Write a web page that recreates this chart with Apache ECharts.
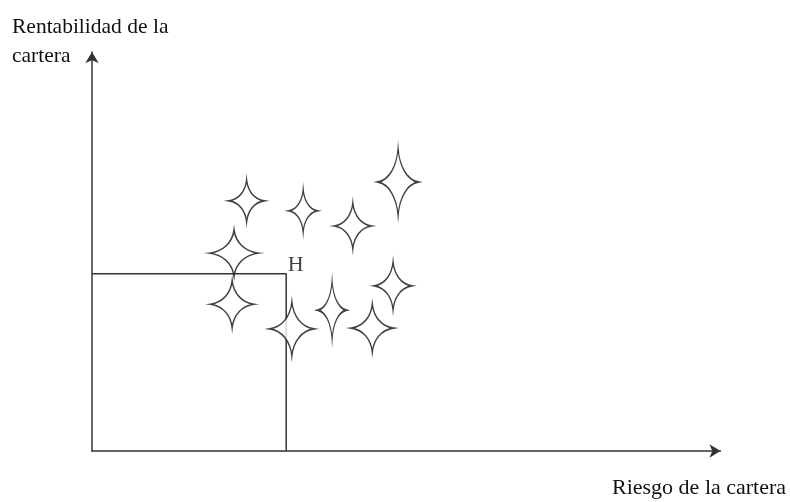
<!DOCTYPE html>
<html>
<head>
<meta charset="utf-8">
<script src="https://cdn.jsdelivr.net/npm/echarts@6/dist/echarts.min.js"></script>
<style>
html,body{margin:0;padding:0;background:#fff;}
#chart{width:790px;height:502px;}
</style>
</head>
<body>
<div id="chart"></div>
<script>
// Data (axis units 0..100, no scale shown in the original)
const yAxisTitle = 'Rentabilidad de la\ncartera';
const xAxisTitle = 'Riesgo de la cartera';
const portfolioX = [24.6, 33.6, 41.5, 48.7, 22.6, 22.3, 31.8, 38.2, 44.6, 47.9];
const portfolioY = [62.7, 60.2, 56.4, 67.4, 49.6, 36.8, 30.6, 35.3, 30.8, 41.4];
const pointHName = 'H';
const pointHX = 30.9;
const pointHY = 44.4;

// Marker sizes (visual only)
const starW = [35, 28, 37, 40, 49, 43, 44, 28, 42, 37];
const starH = [42, 43, 46, 68, 46, 47, 54, 59, 48, 48];

const starPath = 'path://M0,-1 C0.07,-0.45 0.45,-0.07 1,0 C0.45,0.07 0.07,0.45 0,1 C-0.07,0.45 -0.45,0.07 -1,0 C-0.45,-0.07 -0.07,-0.45 0,-1 Z';
const FONT = '"Liberation Serif", "Times New Roman", serif';

const starData = portfolioX.map((x, i) => ({
  value: [x, portfolioY[i]],
  symbolSize: [starW[i], starH[i]]
}));

const chart = echarts.init(document.getElementById('chart'), null, { renderer: 'canvas' });
chart.setOption({
  animation: false,
  backgroundColor: '#ffffff',
  grid: { left: 92, right: 69.5, top: 52, bottom: 51, containLabel: false },
  xAxis: {
    type: 'value', min: 0, max: 100,
    axisLine: { show: true, onZero: false, symbol: ['none', 'arrow'], symbolSize: [10, 11],
      lineStyle: { color: '#333', width: 1.5 } },
    axisTick: { show: false }, axisLabel: { show: false }, splitLine: { show: false }
  },
  yAxis: {
    type: 'value', min: 0, max: 100,
    axisLine: { show: true, onZero: false, symbol: ['none', 'arrow'], symbolSize: [10, 11],
      lineStyle: { color: '#333', width: 1.5 } },
    axisTick: { show: false }, axisLabel: { show: false }, splitLine: { show: false }
  },
  graphic: [
    { type: 'text', left: 12, top: 13, style: { text: yAxisTitle, font: '21.5px ' + FONT, fill: '#111', lineHeight: 29 } },
    { type: 'text', left: 612, top: 477, style: { text: xAxisTitle, font: '22px ' + FONT, fill: '#111' } }
  ],
  series: [
    {
      type: 'line',
      data: [[0, pointHY], [pointHX, pointHY], [pointHX, 0]],
      symbol: 'none',
      lineStyle: { color: '#333', width: 1.5 },
      z: 2
    },
    {
      type: 'scatter',
      data: [{ value: [pointHX, pointHY], name: pointHName }],
      symbolSize: 1,
      itemStyle: { color: 'rgba(0,0,0,0)' },
      label: {
        show: true,
        position: 'right',
        distance: 0,
        offset: [1, -9],
        formatter: '{b}',
        fontFamily: '"Liberation Serif", "Times New Roman", serif',
        fontSize: 22,
        color: '#111'
      },
      z: 4
    },
    {
      type: 'scatter',
      data: starData,
      symbol: starPath,
      itemStyle: { color: '#ffffff', borderColor: '#111', borderWidth: 1.5 },
      z: 3
    }
  ]
});
</script>
</body>
</html>
